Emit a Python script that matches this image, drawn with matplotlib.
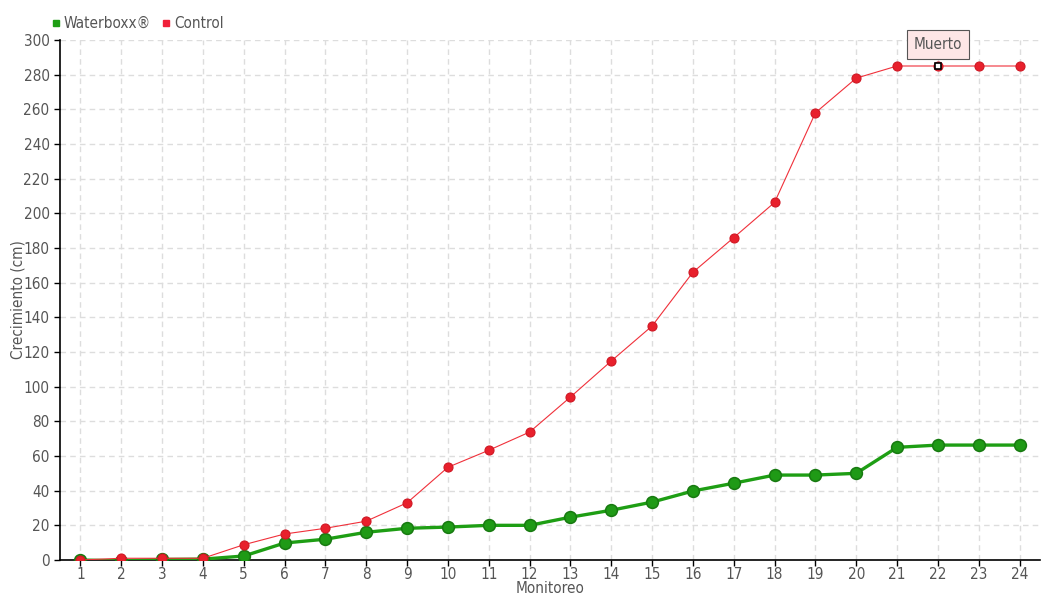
import matplotlib.pyplot as plt
from matplotlib.lines import Line2D

monitoreo = list(range(1, 25))
waterboxx = [0, -0.5, 0.3, 0.5, 2.3, 9.8, 12, 16, 18.3, 19, 20, 20,
             24.7, 28.7, 33.4, 39.8, 44.3, 49, 49, 50, 65, 66.3, 66.3, 66.3]
control = [0, 1, 1, 1, 8.8, 15, 18.3, 22.4, 33, 53.5, 63.3, 73.8,
           94, 114.8, 135, 166, 186, 206.3, 258, 278, 285, 285, 285, 285]

txt = '#555555'
plt.rcParams['font.family'] = ['DejaVu Sans']
plt.rcParams['font.stretch'] = 'condensed'

fig = plt.figure(figsize=(10.6, 6), dpi=100)
ax = fig.add_axes([60 / 1060, 40 / 600, 980 / 1060, 520 / 600])

ax.plot(monitoreo, waterboxx, color='#1e9e14', lw=2.4, marker='o', ms=8.5,
        markerfacecolor='#1f9a16', markeredgecolor='#177a10', markeredgewidth=1.1, zorder=3)
ax.plot(monitoreo, control, color='#f0303a', lw=0.8, marker='o', ms=6.5,
        markerfacecolor='#e8202c', markeredgecolor='#d01824', markeredgewidth=0.8, zorder=4)

# dead-plant marker
ax.plot([22], [control[21]], marker='s', ms=5, markerfacecolor='white',
        markeredgecolor='black', markeredgewidth=1.2, zorder=6)
ax.annotate('Muerto', xy=(22, control[21]), xytext=(0, 15.5), textcoords='offset points',
            ha='center', va='center', fontsize=11, color=txt,
            bbox=dict(boxstyle='square,pad=0.45', fc='#fde6e6', ec='#555555', lw=0.8),
            zorder=7)

ax.set_xlim(0.5, 24.5)
ax.set_ylim(0, 300)
ax.set_xticks(monitoreo)
ax.set_yticks(range(0, 301, 20))
ax.grid(True, color='#dddddd', linestyle=(0, (4, 3)), lw=1)
ax.set_axisbelow(True)
for s in ['top', 'right']:
    ax.spines[s].set_visible(False)
ax.spines['left'].set_linewidth(1.2)
ax.spines['bottom'].set_linewidth(1.2)
ax.tick_params(axis='both', labelsize=11, labelcolor=txt, length=4, width=1)
ax.tick_params(axis='x', pad=1)

ax.set_xlabel('Monitoreo', fontsize=11, color=txt)
ax.set_ylabel('Crecimiento (cm)', fontsize=11, color=txt)
ax.xaxis.set_label_coords(0.5, -21 / 520, transform=ax.transAxes)
ax.yaxis.set_label_coords(-34 / 980, 0.5, transform=ax.transAxes)

handles = [Line2D([], [], ls='none', marker='s', ms=5, color='#1e9e14'),
           Line2D([], [], ls='none', marker='s', ms=5, color='#f0203a')]
fig.legend(handles, ['Waterboxx®', 'Control'], loc='upper left', bbox_to_anchor=(44 / 1060, 1 - 10 / 600),
           ncol=2, frameon=False, fontsize=11, labelcolor=txt, handletextpad=0.1,
           columnspacing=0.6, handlelength=0.8, borderaxespad=0)

fig.savefig('out.png', dpi=100)
